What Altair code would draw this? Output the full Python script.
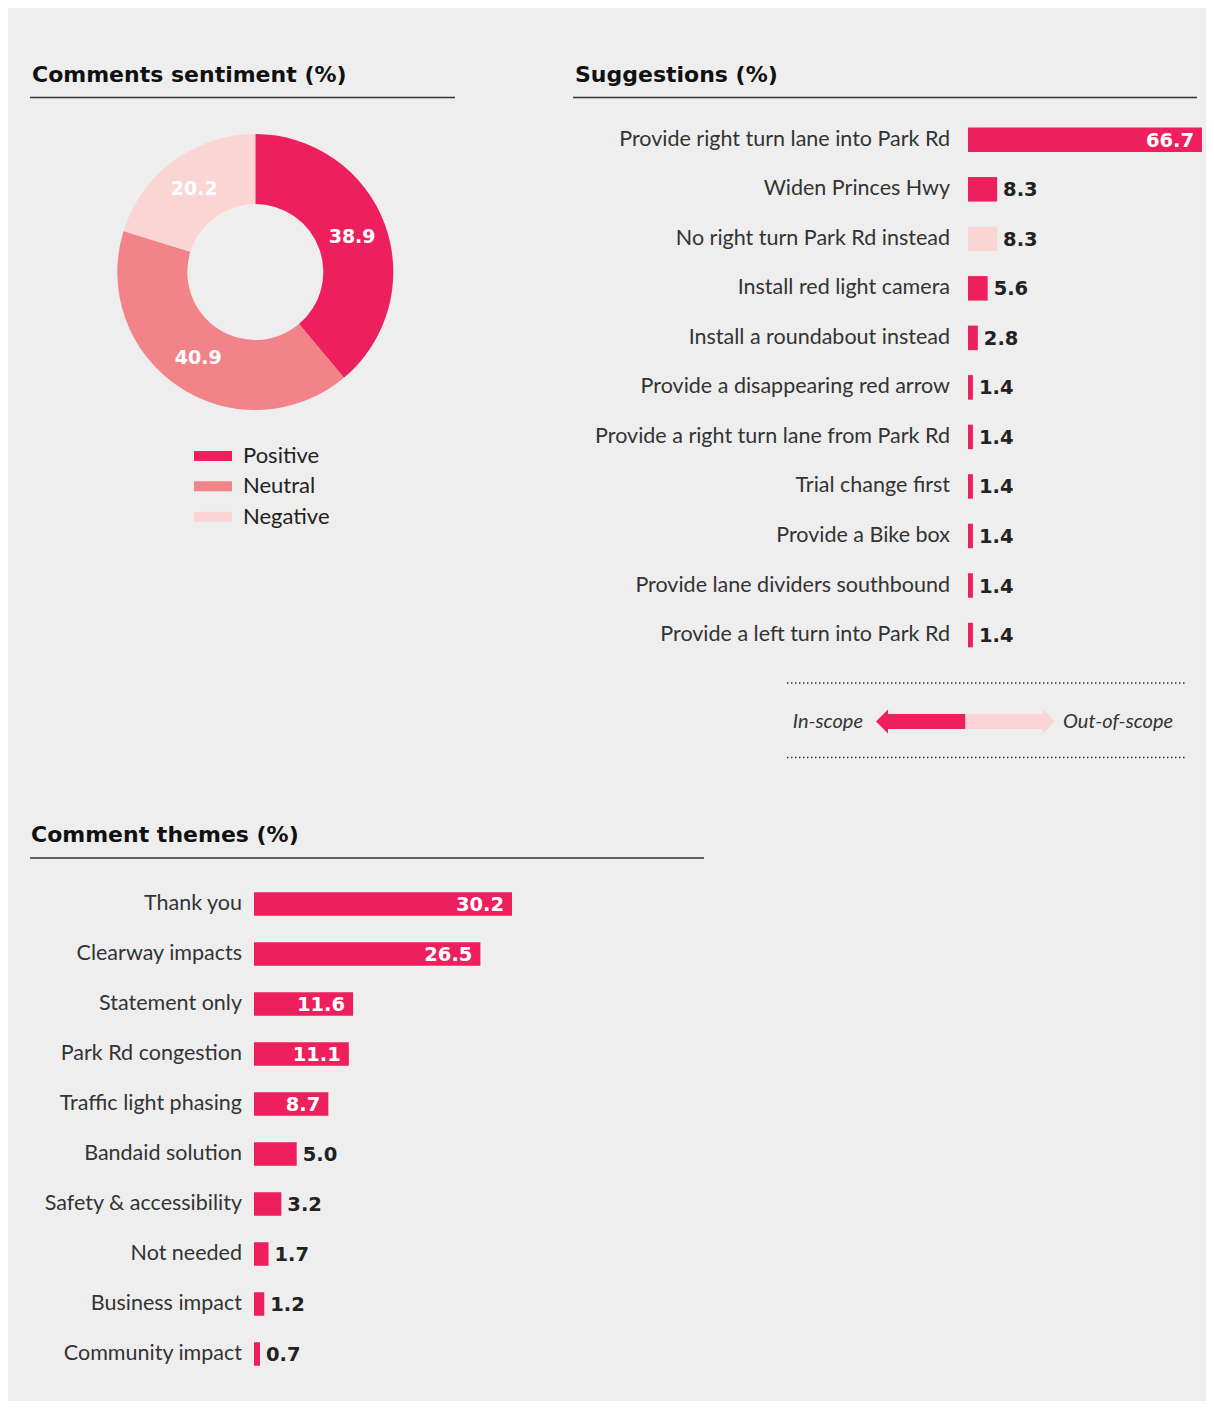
import altair as alt
import pandas as pd

# ---------------- data ----------------
titles = ["Comments sentiment (%)", "Suggestions (%)", "Comment themes (%)"]

sentiment_labels = ["Positive", "Neutral", "Negative"]
sentiment_values = [38.9, 40.9, 20.2]

suggestion_labels = [
    "Provide right turn lane into Park Rd",
    "Widen Princes Hwy",
    "No right turn Park Rd instead",
    "Install red light camera",
    "Install a roundabout instead",
    "Provide a disappearing red arrow",
    "Provide a right turn lane from Park Rd",
    "Trial change first",
    "Provide a Bike box",
    "Provide lane dividers southbound",
    "Provide a left turn into Park Rd",
]
suggestion_values = [66.7, 8.3, 8.3, 5.6, 2.8, 1.4, 1.4, 1.4, 1.4, 1.4, 1.4]
suggestion_scope = ["In-scope", "In-scope", "Out-of-scope", "In-scope", "In-scope",
                    "In-scope", "In-scope", "In-scope", "In-scope", "In-scope", "In-scope"]

scope_labels = ["In-scope", "Out-of-scope"]

theme_labels = [
    "Thank you", "Clearway impacts", "Statement only", "Park Rd congestion",
    "Traffic light phasing", "Bandaid solution", "Safety & accessibility",
    "Not needed", "Business impact", "Community impact",
]
theme_values = [30.2, 26.5, 11.6, 11.1, 8.7, 5.0, 3.2, 1.7, 1.2, 0.7]

# ---------------- style ----------------
PINK = "#ED1F5D"
NEUTRAL = "#F28489"
LIGHT = "#FBD5D3"
BG = "#eeeeee"
BOLD = "DejaVu Sans"
LIGHTFONT = "Lato"
LABEL_COL = "#333333"
VALUE_COL = "#222222"

sent_df = pd.DataFrame({"sentiment": sentiment_labels, "value": sentiment_values,
                        "rank": list(range(len(sentiment_labels)))})
sug_df = pd.DataFrame({"label": suggestion_labels, "value": suggestion_values,
                       "scope": suggestion_scope})
theme_df = pd.DataFrame({"label": theme_labels, "value": theme_values})
scope_df = pd.DataFrame({"scope": scope_labels})
one = pd.DataFrame({"k": [0]})


# ---------------- titles + underlines ----------------
def title_layer(text, x, y):
    return alt.Chart(pd.DataFrame({"t": [text]})).mark_text(
        align="left", baseline="alphabetic", font=BOLD, fontWeight="bold",
        fontSize=22, color="#111111"
    ).encode(text="t:N", x=alt.value(x), y=alt.value(y))


def hline(x1, x2, y, dash=None, width=1.5, color="#333333"):
    kw = dict(strokeWidth=width, color=color)
    if dash:
        kw["strokeDash"] = dash
    return alt.Chart(one).mark_rule(**kw).encode(
        x=alt.value(x1), x2=alt.value(x2), y=alt.value(y))


title_layers = [
    title_layer(titles[0], 24, 74),
    title_layer(titles[1], 567, 74),
    title_layer(titles[2], 23, 834),
    hline(22, 447, 89.5),
    hline(565, 1189, 89.5),
    hline(22, 696, 850),
]

# ---------------- donut ----------------
CX, CY = 247.3, 264
sent_color = alt.Color("sentiment:N",
                       scale=alt.Scale(domain=sentiment_labels, range=[PINK, NEUTRAL, LIGHT]),
                       legend=None)
donut_base = alt.Chart(sent_df).encode(
    theta=alt.Theta("value:Q", stack=True),
    order=alt.Order("rank:Q"),
    x=alt.value(CX), y=alt.value(CY),
)
arc = donut_base.mark_arc(outerRadius=138, innerRadius=68).encode(color=sent_color)
arc_text = donut_base.mark_text(
    radius=103, font=BOLD, fontWeight="bold", fontSize=19, baseline="middle", align="center"
).encode(text=alt.Text("value:Q", format=".1f"), detail="sentiment:N",
         color=alt.value("white"))
donut = alt.layer(arc, arc_text)

# manual legend
leg_y = alt.Y("sentiment:N", sort=sentiment_labels,
              scale=alt.Scale(range=[432.8, 523.9], paddingInner=0.67, paddingOuter=0.335),
              axis=None)
leg_sym = alt.Chart(sent_df).mark_bar().encode(
    y=leg_y, x=alt.value(186), x2=alt.value(224), color=sent_color)
leg_txt = alt.Chart(sent_df).mark_text(
    align="left", baseline="middle", font=LIGHTFONT, fontWeight=400, fontSize=22,
    color=VALUE_COL
).encode(y=leg_y, x=alt.value(235), text="sentiment:N")
legend = alt.layer(leg_sym, leg_txt)


# ---------------- horizontal bar panels ----------------
def bar_panel(df, xrange, yrange, pin, pout, label_dx, threshold, color_enc):
    sx = alt.Scale(range=xrange, zero=True, nice=False)
    sy = alt.Scale(range=yrange, paddingInner=pin, paddingOuter=pout)
    base = alt.Chart(df).encode(y=alt.Y("label:N", sort=None, scale=sy, axis=None))
    bars = base.mark_bar().encode(x=alt.X("value:Q", scale=sx, axis=None), color=color_enc)
    labels = base.mark_text(
        align="right", baseline="middle", dx=label_dx, font=LIGHTFONT, fontWeight=400,
        fontSize=21.5, color=LABEL_COL
    ).encode(x=alt.datum(0), text="label:N")
    inside = base.transform_filter(f"datum.value > {threshold}").mark_text(
        align="right", baseline="middle", dx=-8, dy=1, font=BOLD, fontWeight="bold",
        fontSize=19.5, color="white"
    ).encode(x="value:Q", text=alt.Text("value:Q", format=".1f"))
    outside = base.transform_filter(f"datum.value <= {threshold}").mark_text(
        align="left", baseline="middle", dx=6, dy=1, font=BOLD, fontWeight="bold",
        fontSize=19.5, color=VALUE_COL
    ).encode(x="value:Q", text=alt.Text("value:Q", format=".1f"))
    return alt.layer(bars, labels, inside, outside)


scope_color = alt.Color("scope:N", scale=alt.Scale(domain=scope_labels, range=[PINK, LIGHT]),
                        legend=None)

sugg = bar_panel(sug_df, [960, 1194], [107.0, 651.8], 0.505, 0.2525, -18, 20, scope_color)
themes = bar_panel(theme_df, [246, 504], [871, 1371], 0.53, 0.265, -12, 8,
                   alt.value(PINK))

# ---------------- scope arrow legend ----------------
ax = alt.Scale(type="band", domain=scope_labels, range=[880, 1035],
               paddingInner=0, paddingOuter=0)
abase = alt.Chart(scope_df)
shaft = abase.mark_bar().encode(
    x=alt.X("scope:N", scale=ax, axis=None),
    y=alt.value(706), y2=alt.value(721), color=scope_color)
head_in = abase.transform_filter("datum.scope == 'In-scope'").mark_point(
    shape="M-1,0L0,-1L0,1Z", filled=True, size=576, opacity=1, strokeWidth=0
).encode(x=alt.X("scope:N", bandPosition=0), y=alt.value(713.5), color=scope_color)
head_out = abase.transform_filter("datum.scope == 'Out-of-scope'").mark_point(
    shape="M1,0L0,-1L0,1Z", filled=True, size=576, opacity=1, strokeWidth=0
).encode(x=alt.X("scope:N", bandPosition=1), y=alt.value(713.5), color=scope_color)
txt_in = abase.transform_filter("datum.scope == 'In-scope'").mark_text(
    align="right", baseline="middle", dx=-25, font=LIGHTFONT, fontWeight=400,
    fontStyle="italic", fontSize=20, color=LABEL_COL
).encode(x=alt.X("scope:N", bandPosition=0), y=alt.value(713.5), text="scope:N")
txt_out = abase.transform_filter("datum.scope == 'Out-of-scope'").mark_text(
    align="left", baseline="middle", dx=20, font=LIGHTFONT, fontWeight=400,
    fontStyle="italic", fontSize=20, color=LABEL_COL
).encode(x=alt.X("scope:N", bandPosition=1), y=alt.value(713.5), text="scope:N")
arrow = alt.layer(shaft, head_in, head_out, txt_in, txt_out)

dots = [hline(779, 1177, 675, dash=[1.5, 2.5], width=1.5),
        hline(779, 1177, 749.5, dash=[1.5, 2.5], width=1.5)]

chart = alt.layer(
    *title_layers, donut, legend, sugg, arrow, *dots, themes
).resolve_scale(
    x="independent", y="independent", color="independent", theta="independent"
).properties(
    width=1198, height=1393, background=BG, padding=0,
    autosize=alt.AutoSizeParams(type="none"),
).configure_view(stroke=None)

chart.save("out.html", embed_options={"renderer": "svg", "actions": False})
